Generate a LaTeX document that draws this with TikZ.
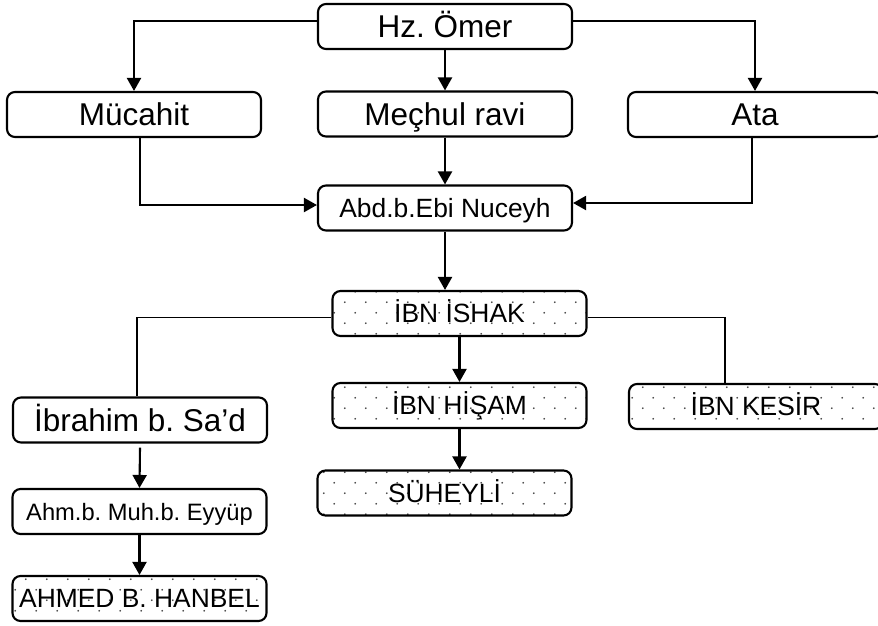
\documentclass[tikz,border=0pt]{standalone}
\usepackage{fontspec}
\setmainfont{Liberation Sans}
\usetikzlibrary{arrows.meta,patterns}
\frenchspacing
\pgfdeclarepatternformonly{mydots}{\pgfqpoint{0pt}{0pt}}{\pgfqpoint{21.3pt}{21.3pt}}{\pgfqpoint{21.3pt}{21.3pt}}{%
  \pgfpathcircle{\pgfqpoint{5pt}{5pt}}{1pt}%
  \pgfpathcircle{\pgfqpoint{15.65pt}{15.65pt}}{1pt}%
  \pgfusepath{fill}}
\begin{document}
\begin{tikzpicture}[x=1pt,y=-1pt,
  box/.style={draw, line width=2.1pt, rounded corners=8pt, minimum width=254pt,
    minimum height=45pt, inner sep=0pt, text height=22.5pt, text depth=0pt,
    font=\fontsize{31.5}{38}\selectfont},
  midbox/.style={box, text height=18.9pt, font=\fontsize{26.4}{32}\selectfont},
  smallbox/.style={box, text height=17pt, font=\fontsize{23.7}{28}\selectfont},
  dotbox/.style={midbox, pattern=mydots, pattern color=black!75},
  arr/.style={line width=2.1pt, -{Triangle[length=13pt,width=14pt]}},
  thin/.style={line width=1.1pt}]
\clip (0,0) rectangle (878,625);
\fill[white] (0,0) rectangle (878,625);
% nodes
\node[box] (omer) at (445,26.5) {Hz. Ömer};
\node[box] (mucahit) at (134,114.5) {Mücahit};
\node[box] (mechul) at (445,114) {Meçhul ravi};
\node[box] (ata) at (755,114.5) {Ata};
\node[midbox] (abd) at (445,208) {Abd.b.Ebi Nuceyh};
\node[dotbox] (ishak) at (459.5,313.5) {İBN İSHAK};
\node[box] (ibrahim) at (140,420) {İbrahim b. Sa’d};
\node[dotbox] (hisam) at (459.5,405.5) {İBN HİŞAM};
\node[dotbox] (kesir) at (756,406.5) {İBN KESİR};
\node[dotbox] (suheyli) at (444.5,493) {SÜHEYLİ};
\node[smallbox] (ahm) at (139.5,511.5) {Ahm.b. Muh.b. Eyyüp};
\node[dotbox] (hanbel) at (139.5,598.5) {AHMED B. HANBEL};
% connectors
\draw[arr] ([yshift=5.5pt]omer.west) -| (mucahit.north);
\draw[arr] ([yshift=5.5pt]omer.east) -| (ata.north);
\draw[arr] (omer.south) -- (mechul.north);
\draw[arr] (mechul.south) -- (abd.north);
\draw[arr] ([xshift=6pt]mucahit.south) |- ([yshift=3pt]abd.west);
\draw[arr] ([xshift=-3pt]ata.south) |- ([yshift=5pt]abd.east);
\draw[arr] (abd.south) -- (abd.south |- ishak.north);
\draw[thin] ([yshift=-4pt]ishak.west) -| ([xshift=-3pt]ibrahim.north);
\draw[thin] ([yshift=-4pt]ishak.east) -| ([xshift=-31pt]kesir.north);
\draw[arr] (ishak.south) -- (hisam.north);
\draw[arr] (hisam.south) -- (hisam.south |- suheyli.north);
\draw[arr] ([yshift=-4pt]ibrahim.south) -- (ahm.north);
\draw[arr] (ahm.south) -- (hanbel.north);
\end{tikzpicture}
\end{document}
